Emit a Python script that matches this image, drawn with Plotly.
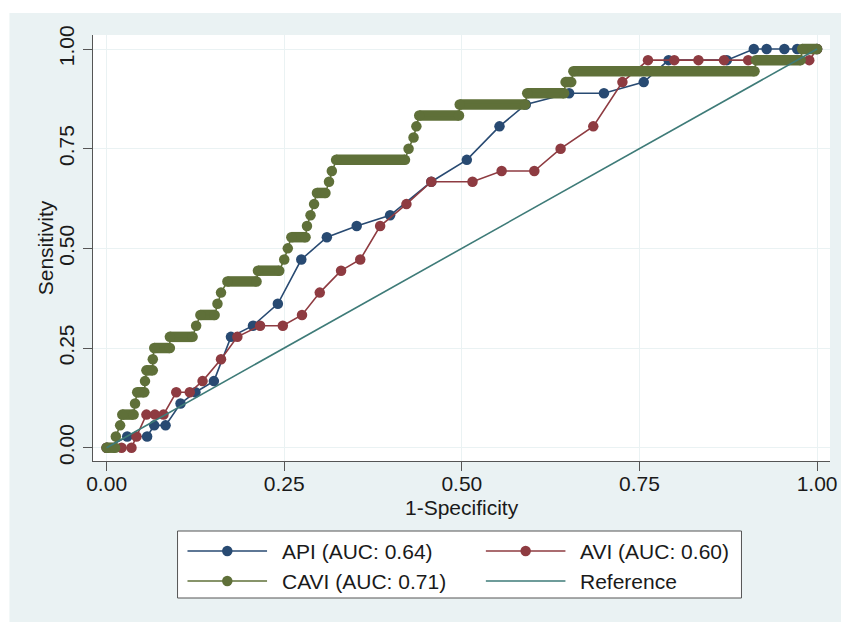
import plotly.graph_objects as go

# ---------------- data ----------------
api_fpr = [0.000, 0.029, 0.057, 0.067, 0.083, 0.104, 0.125, 0.151, 0.175, 0.206,
           0.241, 0.274, 0.310, 0.352, 0.399, 0.457, 0.507, 0.553, 0.590, 0.651,
           0.700, 0.756, 0.791, 0.873, 0.911, 0.929, 0.954, 0.972, 1.000]
api_tpr = [0.000, 0.028, 0.028, 0.056, 0.056, 0.111, 0.139, 0.167, 0.278, 0.306,
           0.361, 0.472, 0.528, 0.556, 0.583, 0.667, 0.722, 0.806, 0.861, 0.889,
           0.889, 0.917, 0.972, 0.972, 1.000, 1.000, 1.000, 1.000, 1.000]

avi_fpr = [0.000, 0.021, 0.035, 0.042, 0.056, 0.068, 0.080, 0.098, 0.117, 0.135,
           0.161, 0.184, 0.216, 0.248, 0.275, 0.300, 0.330, 0.357, 0.385, 0.422,
           0.457, 0.515, 0.556, 0.602, 0.639, 0.685, 0.726, 0.762, 0.799, 0.833,
           0.869, 0.903, 0.989, 1.000]
avi_tpr = [0.000, 0.000, 0.000, 0.028, 0.083, 0.083, 0.083, 0.139, 0.139, 0.167,
           0.222, 0.278, 0.306, 0.306, 0.333, 0.389, 0.444, 0.472, 0.556, 0.611,
           0.667, 0.667, 0.694, 0.694, 0.750, 0.806, 0.917, 0.972, 0.972, 0.972,
           0.972, 0.972, 0.972, 1.000]

# CAVI: for every sensitivity level, the first and last 1-specificity value
cavi_tpr = [0.000, 0.028, 0.056, 0.083, 0.111, 0.139, 0.167, 0.194, 0.222, 0.250,
            0.278, 0.306, 0.333, 0.361, 0.389, 0.417, 0.444, 0.472, 0.500, 0.528,
            0.556, 0.583, 0.611, 0.639, 0.667, 0.694, 0.722, 0.750, 0.778, 0.806,
            0.833, 0.861, 0.889, 0.917, 0.944, 0.972, 1.000]
cavi_fpr_lo = [0.000, 0.013, 0.019, 0.022, 0.040, 0.043, 0.054, 0.056, 0.065, 0.067,
               0.089, 0.126, 0.132, 0.156, 0.161, 0.170, 0.213, 0.250, 0.255, 0.260,
               0.282, 0.287, 0.292, 0.296, 0.313, 0.317, 0.323, 0.425, 0.432, 0.436,
               0.440, 0.497, 0.592, 0.646, 0.657, 0.914, 0.979]
cavi_fpr_hi = [0.012, 0.013, 0.019, 0.038, 0.040, 0.053, 0.054, 0.065, 0.065, 0.089,
               0.121, 0.126, 0.152, 0.156, 0.161, 0.211, 0.243, 0.250, 0.255, 0.280,
               0.282, 0.287, 0.292, 0.308, 0.313, 0.317, 0.420, 0.425, 0.432, 0.436,
               0.496, 0.589, 0.644, 0.654, 0.912, 0.977, 1.000]

ref_fpr = [0.0, 1.0]
ref_tpr = [0.0, 1.0]

legend_labels = ["API (AUC: 0.64)", "AVI (AUC: 0.60)", "CAVI (AUC: 0.71)", "Reference"]
tick_vals = [0.0, 0.25, 0.5, 0.75, 1.0]
tick_text = ["0.00", "0.25", "0.50", "0.75", "1.00"]
x_title = "1-Specificity"
y_title = "Sensitivity"

# ---------------- style ----------------
OFF = 8                      # page body margin: figure starts 8px into the window
W, H = 849 - OFF, 622 - OFF
PL, PR, PT, PB = 93, 834, 35, 461          # plot-area edges (window px)
NAVY, MAROON, GREEN, TEAL = "#284a72", "#8e3b41", "#5f7039", "#3e7b78"
PANEL = "#eaf2f3"
TXT = "#1a1a1a"
FONT = "Liberation Sans, Arial, sans-serif"
FS = 21
MS = 10.5
LW = 1.6


def px(x):
    """window x -> paper fraction"""
    return (x - PL) / (PR - PL)


def py(y):
    """window y -> paper fraction"""
    return (PB - y) / (PB - PT)


# build CAVI points and filled runs
cx, cy, bx, by = [], [], [], []
for t, lo, hi in zip(cavi_tpr, cavi_fpr_lo, cavi_fpr_hi):
    cx.append(lo)
    cy.append(t)
    if hi > lo:
        cx.append(hi)
        cy.append(t)
        bx += [lo, hi, None]
        by += [t, t, None]

fig = go.Figure()
fig.add_trace(go.Scatter(x=api_fpr, y=api_tpr, mode="lines+markers", name=legend_labels[0],
                         line=dict(color=NAVY, width=LW),
                         marker=dict(color=NAVY, size=MS, line=dict(width=0))))
fig.add_trace(go.Scatter(x=avi_fpr, y=avi_tpr, mode="lines+markers", name=legend_labels[1],
                         line=dict(color=MAROON, width=LW),
                         marker=dict(color=MAROON, size=MS, line=dict(width=0))))
fig.add_trace(go.Scatter(x=bx, y=by, mode="lines", showlegend=False, hoverinfo="skip",
                         line=dict(color=GREEN, width=MS), connectgaps=False))
fig.add_trace(go.Scatter(x=cx, y=cy, mode="lines+markers", name=legend_labels[2],
                         line=dict(color=GREEN, width=LW),
                         marker=dict(color=GREEN, size=MS, line=dict(width=0))))
fig.add_trace(go.Scatter(x=ref_fpr, y=ref_tpr, mode="lines", name=legend_labels[3],
                         line=dict(color=TEAL, width=LW)))

# axis ranges so that 0 and 1 sit where the reference puts them
x0px, x1px = 106.7, 821.0
y0px, y1px = 447.7, 49.0
sx = (x1px - x0px)
sy = (y0px - y1px)
xr = [-(x0px - PL) / sx, 1 + (PR - x1px) / sx]
yr = [-(PB - y0px) / sy, 1 + (y1px - PT) / sy]

axis_common = dict(
    tickvals=tick_vals, ticktext=tick_text, ticks="outside", ticklen=9, tickwidth=1.3,
    tickcolor="#555555", showline=True, linecolor="#555555", linewidth=1.3,
    showgrid=True, gridcolor=PANEL, gridwidth=1.4, zeroline=False,
    tickfont=dict(family=FONT, size=FS, color=TXT),
    mirror=False, fixedrange=True,
)

fig.update_layout(
    width=W, height=H,
    margin=dict(l=PL - OFF, r=W - (PR - OFF), t=PT - OFF, b=H - (PB - OFF), pad=0),
    paper_bgcolor=PANEL, plot_bgcolor="white",
    showlegend=False,
    xaxis=dict(range=xr, ticklabelstandoff=-5, **axis_common),
    yaxis=dict(range=yr, tickangle=-90, **axis_common),
)

shapes = []
# thin white strips at the top and left of the outer panel
shapes.append(dict(type="rect", xref="paper", yref="paper", x0=px(0), x1=px(900), y0=py(13), y1=py(0),
                   fillcolor="white", line=dict(width=0), layer="below"))
shapes.append(dict(type="rect", xref="paper", yref="paper", x0=px(0), x1=px(9), y0=py(700), y1=py(0),
                   fillcolor="white", line=dict(width=0), layer="below"))
# legend box
LB = dict(x0=178, x1=745, y0=531, y1=598)
shapes.append(dict(type="rect", xref="paper", yref="paper", x0=px(LB["x0"]), x1=px(LB["x1"]),
                   y0=py(LB["y1"]), y1=py(LB["y0"]), fillcolor="white",
                   line=dict(color="#555555", width=1)))

legend_items = [
    (legend_labels[0], NAVY, True, 188, 268, 551, 281),
    (legend_labels[1], MAROON, True, 488, 568, 551, 581),
    (legend_labels[2], GREEN, True, 188, 268, 581, 281),
    (legend_labels[3], TEAL, False, 488, 568, 581, 581),
]
annotations = []
r = MS / 2
for label, col, has_marker, lx0, lx1, ly, tx in legend_items:
    shapes.append(dict(type="line", xref="paper", yref="paper", x0=px(lx0), x1=px(lx1),
                       y0=py(ly), y1=py(ly), line=dict(color=col, width=LW)))
    if has_marker:
        mc = (lx0 + lx1) / 2
        shapes.append(dict(type="circle", xref="paper", yref="paper", x0=px(mc - r), x1=px(mc + r),
                           y0=py(ly + r), y1=py(ly - r), fillcolor=col, line=dict(width=0)))
    annotations.append(dict(x=px(tx), y=py(ly), xref="paper", yref="paper", text=label,
                            showarrow=False, xanchor="left", yanchor="middle",
                            font=dict(family=FONT, size=FS, color=TXT)))

# axis titles
annotations.append(dict(x=px(464), y=py(507), xref="paper", yref="paper", text=x_title,
                        showarrow=False, xanchor="center", yanchor="middle",
                        font=dict(family=FONT, size=FS, color=TXT)))
annotations.append(dict(x=px(45), y=py(248), xref="paper", yref="paper", text=y_title,
                        showarrow=False, xanchor="center", yanchor="middle", textangle=-90,
                        font=dict(family=FONT, size=FS, color=TXT)))

fig.update_layout(shapes=shapes, annotations=annotations)
fig.write_html("out.html")
